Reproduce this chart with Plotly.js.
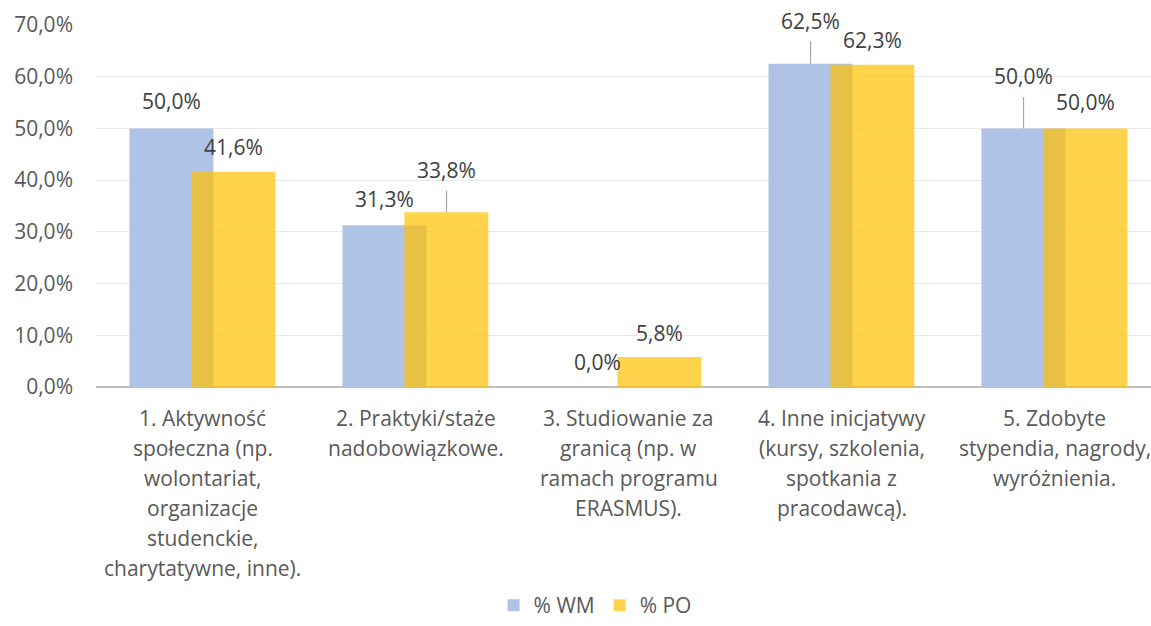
<!DOCTYPE html>
<html>
<head>
<meta charset="utf-8">
<script src="https://cdn.plot.ly/plotly-3.0.1.min.js"></script>
<style>html,body{margin:0;padding:0;background:#fff;}#chart{width:1151px;height:626px;}</style>
</head>
<body>
<div id="chart"></div>
<script>
// ---- data ----
const categories = ["c1", "c2", "c3", "c4", "c5"];
const categoryLabelLines = [
  ["1. Aktywność", "społeczna (np.", "wolontariat,", "organizacje", "studenckie,", "charytatywne, inne)."],
  ["2. Praktyki/staże", "nadobowiązkowe."],
  ["3. Studiowanie za", "granicą (np. w", "ramach programu", "ERASMUS)."],
  ["4. Inne inicjatywy", "(kursy, szkolenia,", "spotkania z", "pracodawcą)."],
  ["5. Zdobyte", "stypendia, nagrody,", "wyróżnienia."]
];
const seriesNames = ["% WM", "% PO"];
const wmValues = [50.0, 31.3, 0.0, 62.5, 50.0];
const poValues = [41.6, 33.8, 5.8, 62.3, 50.0];
const yTickVals = [0, 10, 20, 30, 40, 50, 60, 70];
const yTickText = ["0,0%", "10,0%", "20,0%", "30,0%", "40,0%", "50,0%", "60,0%", "70,0%"];

// ---- styling ----
const FONT = "'Open Sans', 'Noto Sans', sans-serif";
const FS = 21;
const TXT = "#595959";
const LBL = "#404040";
const BW = 0.394;
const fmt = v => v.toFixed(1).replace(".", ",") + "%";

// label shifts (px above bar top) and leader lines
const wmShift = [27, 26, 25, 43, 52];
const poShift = [25, 42, 24, 25, 26];
const wmLeader = [false, false, false, true, true];
const poLeader = [false, true, false, false, false];

const traces = [
  {type: "bar", name: seriesNames[0], x: categories, y: wmValues,
   width: BW, offset: -0.343, marker: {color: "#afc3e6"}, hoverinfo: "y"},
  {type: "bar", name: seriesNames[1], x: categories, y: poValues,
   width: BW, offset: -0.052, marker: {color: "rgba(255,192,0,0.7)"}, hoverinfo: "y"}
];

const annotations = [];
function addLabel(i, v, xshift, shift, leader) {
  const base = {x: categories[i], y: v, xref: "x", yref: "y", text: fmt(v),
    font: {family: FONT, size: FS, color: LBL}};
  if (leader) {
    annotations.push(Object.assign(base, {showarrow: true, arrowhead: 0, arrowwidth: 1.2,
      arrowcolor: "#a6a6a6", ax: 0, ay: -shift, xshift: xshift, startstandoff: 5, standoff: 0}));
  } else {
    annotations.push(Object.assign(base, {showarrow: false, xshift: xshift, yshift: shift,
      yanchor: "middle"}));
  }
}
wmValues.forEach((v, i) => addLabel(i, v, -31, wmShift[i], wmLeader[i]));
poValues.forEach((v, i) => addLabel(i, v, 31, poShift[i], poLeader[i]));

categoryLabelLines.forEach((lines, i) => {
  lines.forEach((line, j) => {
    annotations.push({x: categories[i], y: 0, xref: "x", yref: "paper", text: line,
      showarrow: false, yanchor: "middle", yshift: -31 - 30 * j,
      font: {family: FONT, size: FS, color: TXT}});
  });
});

const layout = {
  width: 1151, height: 626,
  margin: {l: 96, r: 0, t: 25, b: 239},
  paper_bgcolor: "#fff", plot_bgcolor: "#fff",
  barmode: "overlay",
  font: {family: FONT, size: FS, color: TXT},
  xaxis: {type: "category", range: [-0.5, 4.453], showticklabels: false,
    showgrid: false, zeroline: false, showline: false, ticks: "", fixedrange: true},
  yaxis: {range: [0, 70], tickvals: yTickVals, ticktext: yTickText,
    showgrid: true, gridcolor: "#e9e9e9", gridwidth: 1,
    zeroline: true, zerolinecolor: "#bfbfbf", zerolinewidth: 2.5,
    showline: false, ticks: "", ticklabelstandoff: 22,
    tickfont: {family: FONT, size: FS, color: TXT}, fixedrange: true},
  showlegend: true,
  legend: {orientation: "h", xref: "container", yref: "container",
    x: 0.517, xanchor: "center", y: -0.008, yanchor: "bottom",
    font: {family: FONT, size: FS, color: TXT}, itemwidth: 30, traceorder: "normal"},
  annotations: annotations
};

Plotly.newPlot("chart", traces, layout, {displayModeBar: false, staticPlot: true});
</script>
</body>
</html>
